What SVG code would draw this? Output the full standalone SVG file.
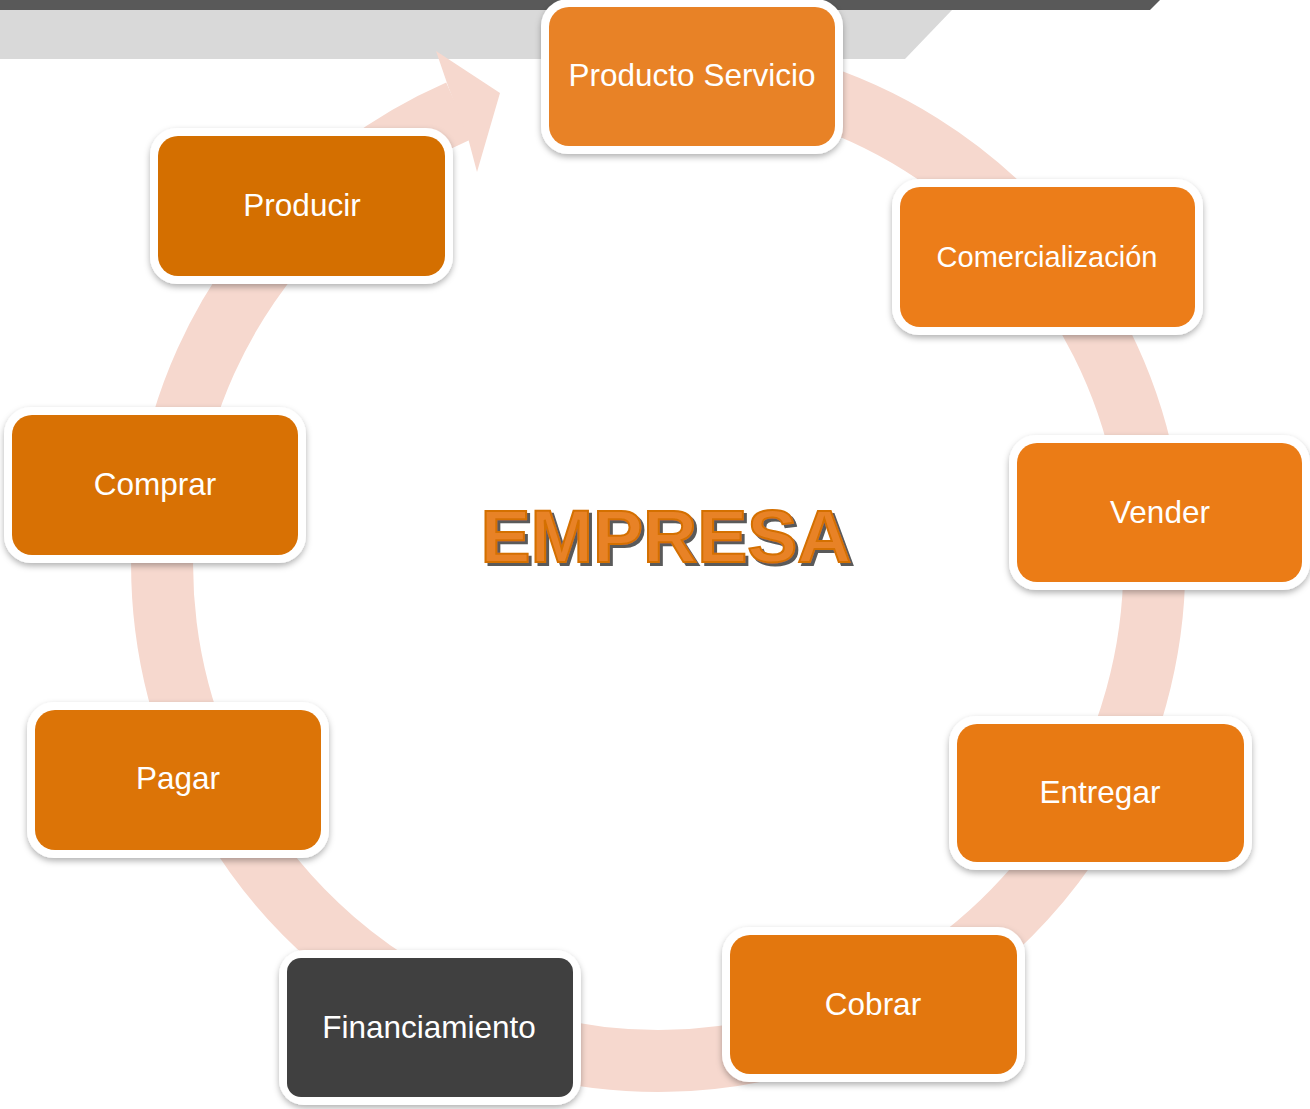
<svg xmlns="http://www.w3.org/2000/svg" width="1310" height="1109" viewBox="0 0 1310 1109">
<defs>
<filter id="sh" x="-10%" y="-10%" width="120%" height="130%">
<feDropShadow dx="0" dy="3" stdDeviation="3" flood-color="#000" flood-opacity="0.3"/>
</filter>
<filter id="tsh" x="-5%" y="-20%" width="110%" height="140%">
<feDropShadow dx="3" dy="3" stdDeviation="0.6" flood-color="#4a4a4a" flood-opacity="0.9"/>
</filter>
</defs>
<style>
.frame{fill:#fff}
.lbl{font-family:"Liberation Sans",Arial,sans-serif;font-size:31.5px;fill:#fff;text-anchor:middle;dominant-baseline:central}
</style>
<g id="banner">
<polygon points="0,0 1160,0 1150,10 0,10" fill="#595959"/>
<polygon points="0,10 952,10 905,59 0,59" fill="#d9d9d9"/>
</g>
<g id="connectors">
<path d="M 571.9 76.5 A 496 496 0 1 1 458.7 110.8" fill="none" stroke="#f6d8ce" stroke-width="62"/>
<polygon points="448,86 436,51 500,93 477,172 468,138" fill="#f6d8ce"/>
</g>
<g id="n-producto">
<rect class="frame" filter="url(#sh)" x="541" y="-1" width="302" height="155" rx="27"/>
<rect x="549" y="7" width="286" height="139" rx="20" fill="#e88226"/>
<text class="lbl" x="692" y="75">Producto Servicio</text>
</g>
<g id="n-comercializacion">
<rect class="frame" filter="url(#sh)" x="892" y="179" width="311" height="156" rx="27"/>
<rect x="900" y="187" width="295" height="140" rx="20" fill="#ec7d19"/>
<text class="lbl" x="1047" y="257" style="font-size:29px">Comercialización</text>
</g>
<g id="n-vender">
<rect class="frame" filter="url(#sh)" x="1009" y="435" width="301" height="155" rx="27"/>
<rect x="1017" y="443" width="285" height="139" rx="20" fill="#eb7c16"/>
<text class="lbl" x="1160" y="512">Vender</text>
</g>
<g id="n-entregar">
<rect class="frame" filter="url(#sh)" x="949" y="716" width="303" height="154" rx="27"/>
<rect x="957" y="724" width="287" height="138" rx="20" fill="#e87a13"/>
<text class="lbl" x="1100" y="792">Entregar</text>
</g>
<g id="n-cobrar">
<rect class="frame" filter="url(#sh)" x="722" y="927" width="303" height="155" rx="27"/>
<rect x="730" y="935" width="287" height="139" rx="20" fill="#e3770e"/>
<text class="lbl" x="873" y="1004">Cobrar</text>
</g>
<g id="n-financiamiento">
<rect class="frame" filter="url(#sh)" x="279" y="950" width="302" height="155" rx="25"/>
<rect x="287" y="958" width="286" height="139" rx="14" fill="#404040"/>
<text class="lbl" x="429" y="1027">Financiamiento</text>
</g>
<g id="n-pagar">
<rect class="frame" filter="url(#sh)" x="27" y="702" width="302" height="156" rx="27"/>
<rect x="35" y="710" width="286" height="140" rx="20" fill="#dc7407"/>
<text class="lbl" x="178" y="778">Pagar</text>
</g>
<g id="n-comprar">
<rect class="frame" filter="url(#sh)" x="4" y="407" width="302" height="156" rx="27"/>
<rect x="12" y="415" width="286" height="140" rx="20" fill="#d87104"/>
<text class="lbl" x="155" y="484">Comprar</text>
</g>
<g id="n-producir">
<rect class="frame" filter="url(#sh)" x="150" y="128" width="303" height="156" rx="27"/>
<rect x="158" y="136" width="287" height="140" rx="20" fill="#d46f00"/>
<text class="lbl" x="302" y="205">Producir</text>
</g>
<g id="title" filter="url(#tsh)">
<text x="666" y="562" font-family="'Liberation Sans',Arial,sans-serif" font-weight="bold" font-size="75" text-anchor="middle" fill="#e88226" stroke="#d46f00" stroke-width="2">EMPRESA</text>
</g>
</svg>
